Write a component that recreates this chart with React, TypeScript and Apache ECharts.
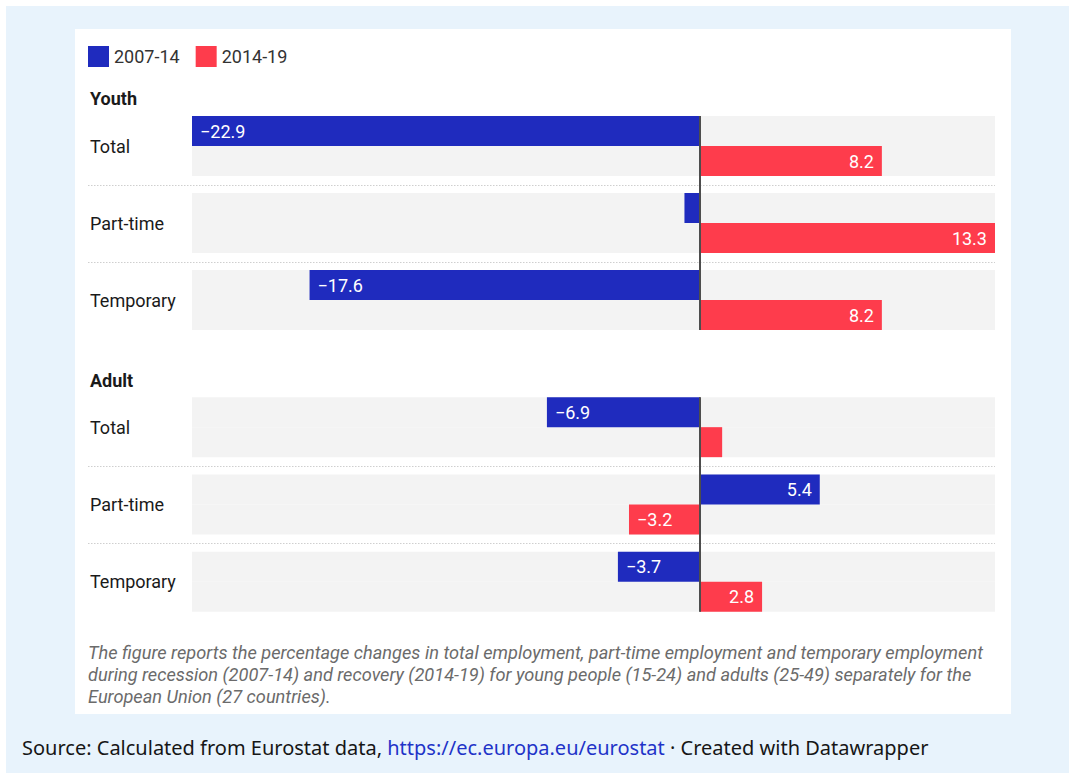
import React, { useEffect, useRef } from "react";
import * as echarts from "echarts";

const categories = ["Total", "Part-time", "Temporary"];
const groups = ["Youth", "Adult"];
const seriesNames = ["2007-14", "2014-19"];
const youth0714 = [-22.9, -0.7, -17.6];
const youth1419 = [8.2, 13.3, 8.2];
const adult0714 = [-6.9, 5.4, -3.7];
const adult1419 = [1.0, -3.2, 2.8];
const xMin = -22.9;
const xMax = 13.3;
const footnoteLines = [
  "The figure reports the percentage changes in total employment, part-time employment and temporary employment",
  "during recession (2007-14) and recovery (2014-19) for young people (15-24) and adults (25-49) separately for the",
  "European Union (27 countries).",
];
const sourceText = "Source: Calculated from Eurostat data, ";
const sourceLink = "https://ec.europa.eu/eurostat";
const sourceTail = " · Created with Datawrapper";

const W = 1069;
const H = 773;
const BLUE = "#1f2bbe";
const RED = "#fe3c4c";
const GRID_LEFT = 192;
const GRID_RIGHT = 74;
const grids = [
  { top: 107.5, height: 231, titleY: 98 },
  { top: 388.5, height: 232, titleY: 380 },
];
const BAR_W = 30;
const FONT = "Roboto, 'Noto Sans', sans-serif";
const FS = 18;

const groupData = [
  [youth0714, youth1419],
  [adult0714, adult1419],
];

function fmt(v: number) {
  const s = Math.abs(v).toFixed(1);
  return v < 0 ? "\u2212" + s : s;
}

export default function App() {
  const ref = useRef<HTMLDivElement>(null);
  useEffect(() => {
    if (!ref.current) return;
    const chart = echarts.init(ref.current, undefined, { renderer: "svg" });

    const series: any[] = [];
    groupData.forEach((pair, g) => {
      pair.forEach((vals, s) => {
        series.push({
          type: "bar",
          name: seriesNames[s],
          xAxisIndex: g,
          yAxisIndex: g,
          barWidth: BAR_W,
          barGap: "0%",
          showBackground: true,
          backgroundStyle: { color: "#f3f3f3" },
          itemStyle: { color: s === 0 ? BLUE : RED },
          label: {
            show: true,
            color: "#fff",
            fontSize: FS,
            fontFamily: FONT,
            distance: 8,
            formatter: (p: any) => fmt(p.value),
          },
          data: vals.map((v) => ({
            value: v,
            label: {
              show: Math.abs(v) >= 2,
              position: v < 0 ? "insideLeft" : "insideRight",
            },
          })),
        });
      });
    });

    const graphic: any[] = [
      {
        id: "bgblue",
        type: "rect",
        z: -10,
        shape: { x: 6, y: 6, width: W - 6, height: H - 6 },
        style: { fill: "#e8f3fc" },
        silent: true,
      },
      {
        id: "bgwhite",
        type: "rect",
        z: -9,
        shape: { x: 75, y: 29, width: 936, height: 685 },
        style: { fill: "#ffffff" },
        silent: true,
      },
    ];
    grids.forEach((gr, g) => {
      graphic.push({
        id: "title" + g,
        type: "text",
        x: 90,
        y: gr.titleY,
        z: 10,
        style: {
          text: groups[g],
          fill: "#1a1a1a",
          font: `bold ${FS}px ${FONT}`,
          verticalAlign: "middle",
        },
      });
      const band = gr.height / categories.length;
      for (let k = 1; k < categories.length; k++) {
        const y = Math.round(gr.top + band * k) + 0.5;
        graphic.push({
          id: `sep${g}_${k}`,
          type: "line",
          z: 10,
          shape: { x1: 88, y1: y, x2: W - GRID_RIGHT, y2: y },
          style: { stroke: "#cfcfcf", lineWidth: 1, lineDash: [1.5, 1.5] },
          silent: true,
        });
      }
    });
    graphic.push({
      id: "foot",
      type: "text",
      x: 88,
      y: 641,
      z: 10,
      style: {
        text: footnoteLines.join("\n"),
        fill: "#6b6b6b",
        font: `italic 18.2px ${FONT}`,
        lineHeight: 22,
        verticalAlign: "top",
      },
    });
    graphic.push({
      id: "source",
      type: "text",
      x: 22,
      y: 747,
      z: 10,
      style: {
        text: `{a|${sourceText}}{b|${sourceLink}}{a|${sourceTail}}`,
        verticalAlign: "middle",
        rich: {
          a: { fill: "#161616", fontSize: 20, fontFamily: "'Noto Sans', 'Open Sans', sans-serif" },
          b: { fill: "#1f33c8", fontSize: 20, fontFamily: "'Noto Sans', 'Open Sans', sans-serif" },
        },
      },
    });

    chart.setOption({
      animation: false,
      backgroundColor: "#ffffff",
      legend: {
        top: 46,
        left: 88,
        padding: 0,
        icon: "rect",
        itemWidth: 21,
        itemHeight: 21,
        itemGap: 16,
        selectedMode: false,
        data: seriesNames,
        textStyle: { fontSize: FS, color: "#333", fontFamily: FONT },
      },
      grid: grids.map((gr) => ({
        left: GRID_LEFT,
        right: GRID_RIGHT,
        top: gr.top,
        height: gr.height,
      })),
      xAxis: grids.map((_, g) => ({
        type: "value",
        gridIndex: g,
        min: xMin,
        max: xMax,
        show: false,
      })),
      yAxis: grids.map((_, g) => ({
        type: "category",
        gridIndex: g,
        data: categories,
        inverse: true,
        axisLine: { show: false },
        axisTick: { show: false },
        splitLine: { show: false },
        axisLabel: {
          align: "left",
          margin: GRID_LEFT - 90,
          color: "#1a1a1a",
          fontSize: FS,
          fontFamily: FONT,
        },
      })),
      series,
      graphic,
    });

    const zeroLines: any[] = grids.map((gr, g) => {
      const x0 = chart.convertToPixel({ xAxisIndex: g } as any, 0) as number;
      const band = gr.height / categories.length;
      const pad = (band - BAR_W * 2) / 2;
      return {
        id: "zero" + g,
        type: "line",
        z: 50,
        shape: { x1: x0, y1: gr.top + pad, x2: x0, y2: gr.top + gr.height - pad },
        style: { stroke: "#4d4d4d", lineWidth: 2 },
        silent: true,
      };
    });
    chart.setOption({ graphic: zeroLines });

    return () => chart.dispose();
  }, []);

  return (
    <div
      ref={ref}
      style={{ position: "fixed", left: 0, top: 0, width: W, height: H }}
    />
  );
}
